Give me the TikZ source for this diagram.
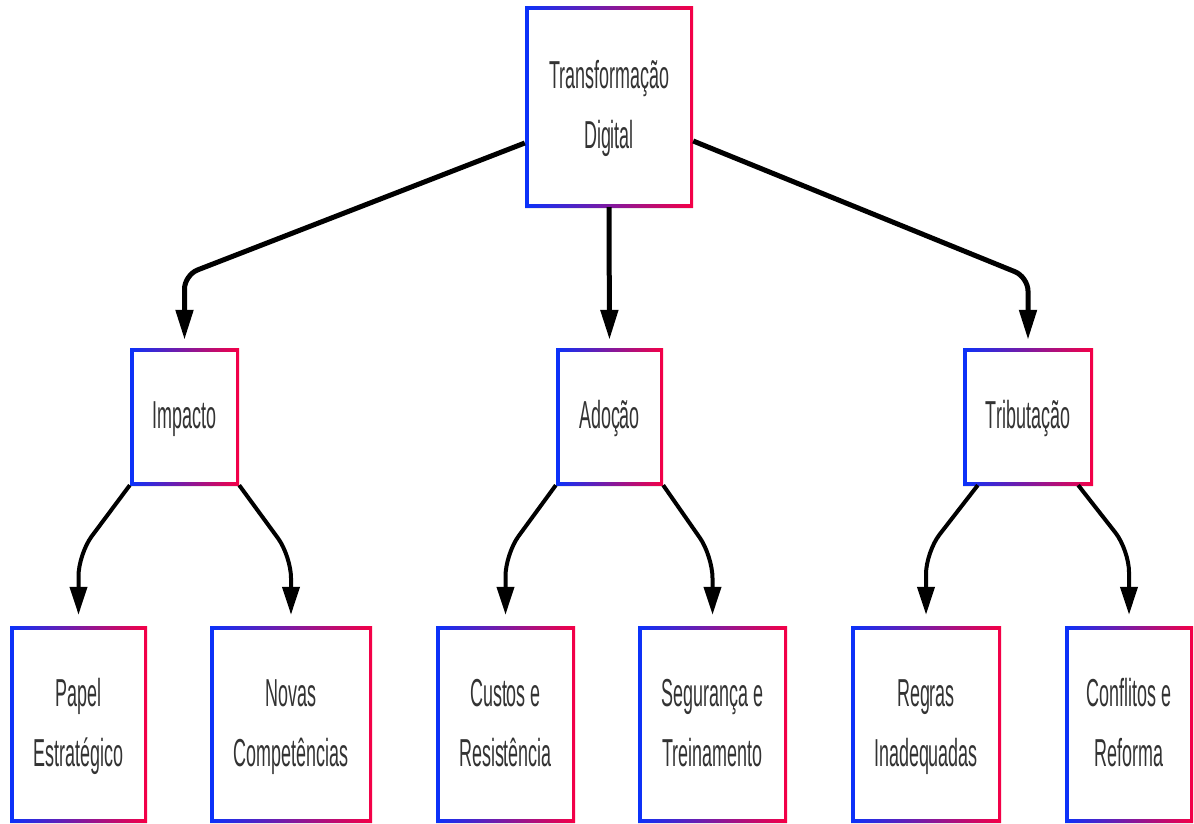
\documentclass[tikz,border=0pt]{standalone}
\usepackage{fontspec}
\newfontfamily\lblfont[FakeStretch=0.46]{Liberation Sans}
\usetikzlibrary{arrows.meta,shadows}
\definecolor{gblue}{RGB}{10,50,250}
\definecolor{gred}{RGB}{245,0,70}
\definecolor{txt}{RGB}{51,51,51}
\newcommand{\mlines}[1]{\begin{tabular}{@{}c@{}}#1\end{tabular}}
\begin{document}
\begin{tikzpicture}[x=1pt,y=-1pt,
  gbox/.style={rectangle, inner sep=0pt, text=txt,
    font=\lblfont\fontsize{39}{60}\selectfont,
    left color=gblue, right color=gred,
    path picture={\fill[white] ([shift={(3.5,3.5)}]path picture bounding box.north west) rectangle ([shift={(-3.5,-3.5)}]path picture bounding box.south east);},
    drop shadow={shadow xshift=0pt,shadow yshift=-1.5pt,opacity=0.15}},
  e1/.style={line width=5pt, -{Triangle[length=30pt,width=17pt]}, rounded corners=14pt, shorten >=8pt},
  e2/.style={line width=4pt, -{Triangle[length=28pt,width=17pt]}, rounded corners=22pt, shorten >=11pt}]
\useasboundingbox (0,0) rectangle (1194,824);
\fill[white] (0,0) rectangle (1194,824);

\node[gbox, minimum width=168pt, minimum height=200pt] (T) at (609,107) {\mlines{Transformação\\Digital}};
\node[gbox, minimum width=109pt, minimum height=137pt] (I) at (184.5,416.5) {\mlines{Impacto}};
\node[gbox, minimum width=107pt, minimum height=137pt] (A) at (609.5,416.5) {\mlines{Adoção}};
\node[gbox, minimum width=130pt, minimum height=137pt] (Tr) at (1028,416.5) {\mlines{Tributação}};
\node[gbox, minimum width=137pt, minimum height=196pt] (P) at (78.5,724) {\mlines{Papel\\Estratégico}};
\node[gbox, minimum width=162pt, minimum height=196pt] (N) at (291,724) {\mlines{Novas\\Competências}};
\node[gbox, minimum width=139pt, minimum height=196pt] (C) at (505.5,724) {\mlines{Custos e\\Resistência}};
\node[gbox, minimum width=149pt, minimum height=196pt] (S) at (712.5,724) {\mlines{Segurança e\\Treinamento}};
\node[gbox, minimum width=150pt, minimum height=196pt] (R) at (926,724) {\mlines{Regras\\Inadequadas}};
\node[gbox, minimum width=128pt, minimum height=196pt] (Co) at (1129,724) {\mlines{Conflitos e\\Reforma}};

\draw[e1] ([yshift=-36pt]T.west) -- (I.north |- {(0,275)}) -- (I.north);
\draw[e1] (T.south) -- (A.north);
\draw[e1] ([yshift=-34pt]T.east) -- (Tr.north |- {(0,277)}) -- (Tr.north);

\draw[e2] (I.south west) -- (P.north |- {(0,554)}) -- (P.north);
\draw[e2] (I.south east) -- (N.north |- {(0,556)}) -- (N.north);
\draw[e2] (A.south west) -- (C.north |- {(0,554)}) -- (C.north);
\draw[e2] (A.south east) -- (S.north |- {(0,556)}) -- (S.north);
\draw[e2] ([xshift=15pt]Tr.south west) -- (R.north |- {(0,552)}) -- (R.north);
\draw[e2] ([xshift=-15pt]Tr.south east) -- (Co.north |- {(0,550)}) -- (Co.north);
\end{tikzpicture}
\end{document}
